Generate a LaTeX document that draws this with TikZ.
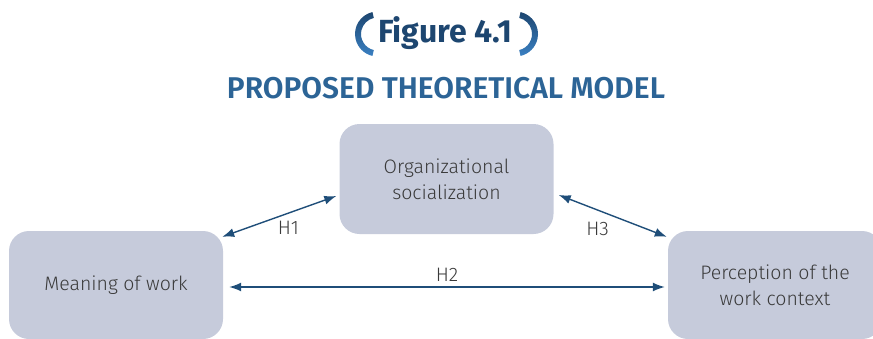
\documentclass[tikz,border=0pt]{standalone}
\usepackage{fontspec}
\setmainfont{Fira Sans}[UprightFont=* Light, BoldFont=* SemiBold]
\newfontfamily\figfont{Fira Sans}[UprightFont=* Bold]
\usetikzlibrary{arrows.meta,positioning}
\definecolor{boxgray}{HTML}{C6CBDB}
\definecolor{linkblue}{HTML}{1F4E79}
\definecolor{figblue}{HTML}{1D4670}
\definecolor{headblue}{HTML}{2C6496}
\definecolor{bracketblue}{HTML}{3A80C2}
\definecolor{textgray}{HTML}{3A3A3A}
\newcommand{\bracketL}[1]
{   \shade[#1] (377.5,34) ++(257:22.5) arc (257:103:{22.5}) -- ++(103:-6) arc (103:257:{16.5}) -- cycle;
}
\newcommand{\bracketR}[1]
{   \shade[#1] (515.5,34) ++(-77:22.5) arc (-77:77:{22.5}) -- ++(77:-6) arc (77:-77:{16.5}) -- cycle;
}
\tikzset{
  modelbox/.style={fill=boxgray, rounded corners=20pt, minimum width=214pt,
    minimum height=108pt, align=center, text=textgray,
    font=\fontsize{19.5}{26}\selectfont},
  link/.style={linkblue, line width=1.4pt, {Latex[length=12pt,width=9pt]}-{Latex[length=12pt,width=9pt]}},
  hlabel/.style={text=textgray, font=\fontsize{19.5}{24}\selectfont}
}

\begin{document}
\begin{tikzpicture}[x=1pt, y=-1pt]
 \useasboundingbox (0,0) rectangle (873,338);
 \clip (0,0) rectangle (873,338);

 \bracketL{top color=figblue, bottom color=bracketblue}
 \bracketR{top color=figblue, bottom color=bracketblue}
 \node[text=figblue, font=\fontsize{32}{36}\selectfont\figfont] (fig) at (445,33) {Figure 4.1};
 \node[text=headblue, font=\fontsize{30}{34}\selectfont\bfseries] (head) at (446,88) {PROPOSED THEORETICAL MODEL};

 \node[modelbox, minimum height=110pt] (orgsoc) at (446.5,179) {Organizational\\socialization};
 \node[modelbox] (meaning) at (116,285) {Meaning of work};
 \node[modelbox] (perception) at (775,285) {Perception of the\\work context};

   \draw[link] ([shift={(-1,6)}]meaning.north east) -- ([shift={(-3,17)}]orgsoc.west)
     node[hlabel, pos=.58, below=4pt] {H1};
   \draw[link] ([shift={(5,16)}]orgsoc.east) -- ([shift={(-1,6)}]perception.north west)
     node[hlabel, pos=.36, below=8pt] {H3};
   \draw[link] ([shift={(6,2)}]meaning.east) -- ([shift={(-3,2)}]perception.west)
     node[hlabel, midway, above=1pt] {H2};

 \end{tikzpicture}
\end{document}
